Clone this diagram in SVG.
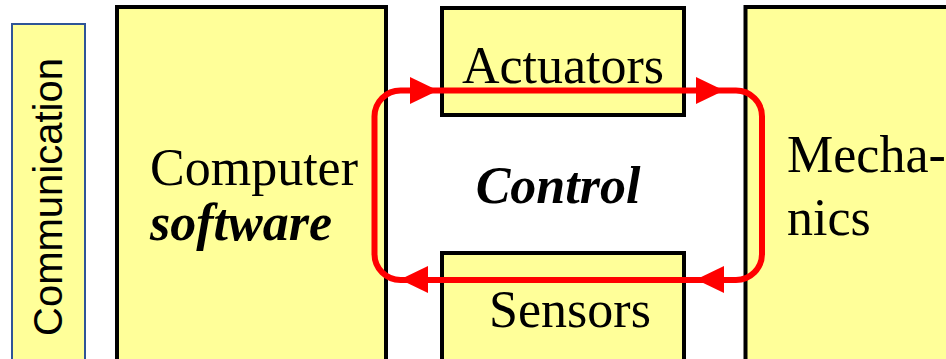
<svg xmlns="http://www.w3.org/2000/svg" width="946" height="359" viewBox="0 0 946 359">
<style>
.box{fill:#ffff99;stroke:#000;stroke-width:4}
.comm{fill:#ffff99;stroke:#2f5597;stroke-width:2}
.t{font-family:"Liberation Serif","Times New Roman",serif;font-size:52px;fill:#000}
.bi{font-weight:bold;font-style:italic}
.s{font-family:"Liberation Sans",Arial,sans-serif;font-size:40px;fill:#000}
.loop{fill:none;stroke:#ff0000;stroke-width:6}
.head{fill:#ff0000}
</style>
<defs>
<polygon id="ah" points="0,-13.5 28,0 0,13.5"/>
</defs>
<rect width="946" height="359" fill="#fff"/>
<g id="communication">
<rect class="comm" x="12" y="24" width="73" height="350"/>
<text class="s" transform="translate(62,197) rotate(-90)" text-anchor="middle">Communication</text>
</g>
<g id="computer">
<rect class="box" x="117" y="7" width="269" height="370"/>
<text class="t" x="150" y="185">Computer</text>
<text class="t bi" x="150" y="240">software</text>
</g>
<g id="actuators">
<rect class="box" x="442" y="8" width="242" height="107"/>
<text class="t" x="563" y="83" text-anchor="middle">Actuators</text>
</g>
<g id="sensors">
<rect class="box" x="442" y="253" width="242" height="120"/>
<text class="t" x="570" y="327" text-anchor="middle">Sensors</text>
</g>
<g id="mechanics">
<rect class="box" x="745.5" y="7" width="230" height="370"/>
<text class="t" x="787" y="172">Mecha-</text>
<text class="t" x="787" y="235">nics</text>
</g>
<g id="control">
<text class="t bi" x="558" y="203" text-anchor="middle">Control</text>
</g>
<g id="connectors">
<path class="loop" d="M400.5 90.5 H736 A26 26 0 0 1 762 116.5 V254 A26 26 0 0 1 736 280 H400.5 A26 26 0 0 1 374.5 254 V116.5 A26 26 0 0 1 400.5 90.5 Z"/>
<use href="#ah" class="head" transform="translate(410,90.5)"/>
<use href="#ah" class="head" transform="translate(696,90.5)"/>
<use href="#ah" class="head" transform="translate(724,279.5) rotate(180)"/>
<use href="#ah" class="head" transform="translate(428,279.5) rotate(180)"/>
</g>
</svg>
